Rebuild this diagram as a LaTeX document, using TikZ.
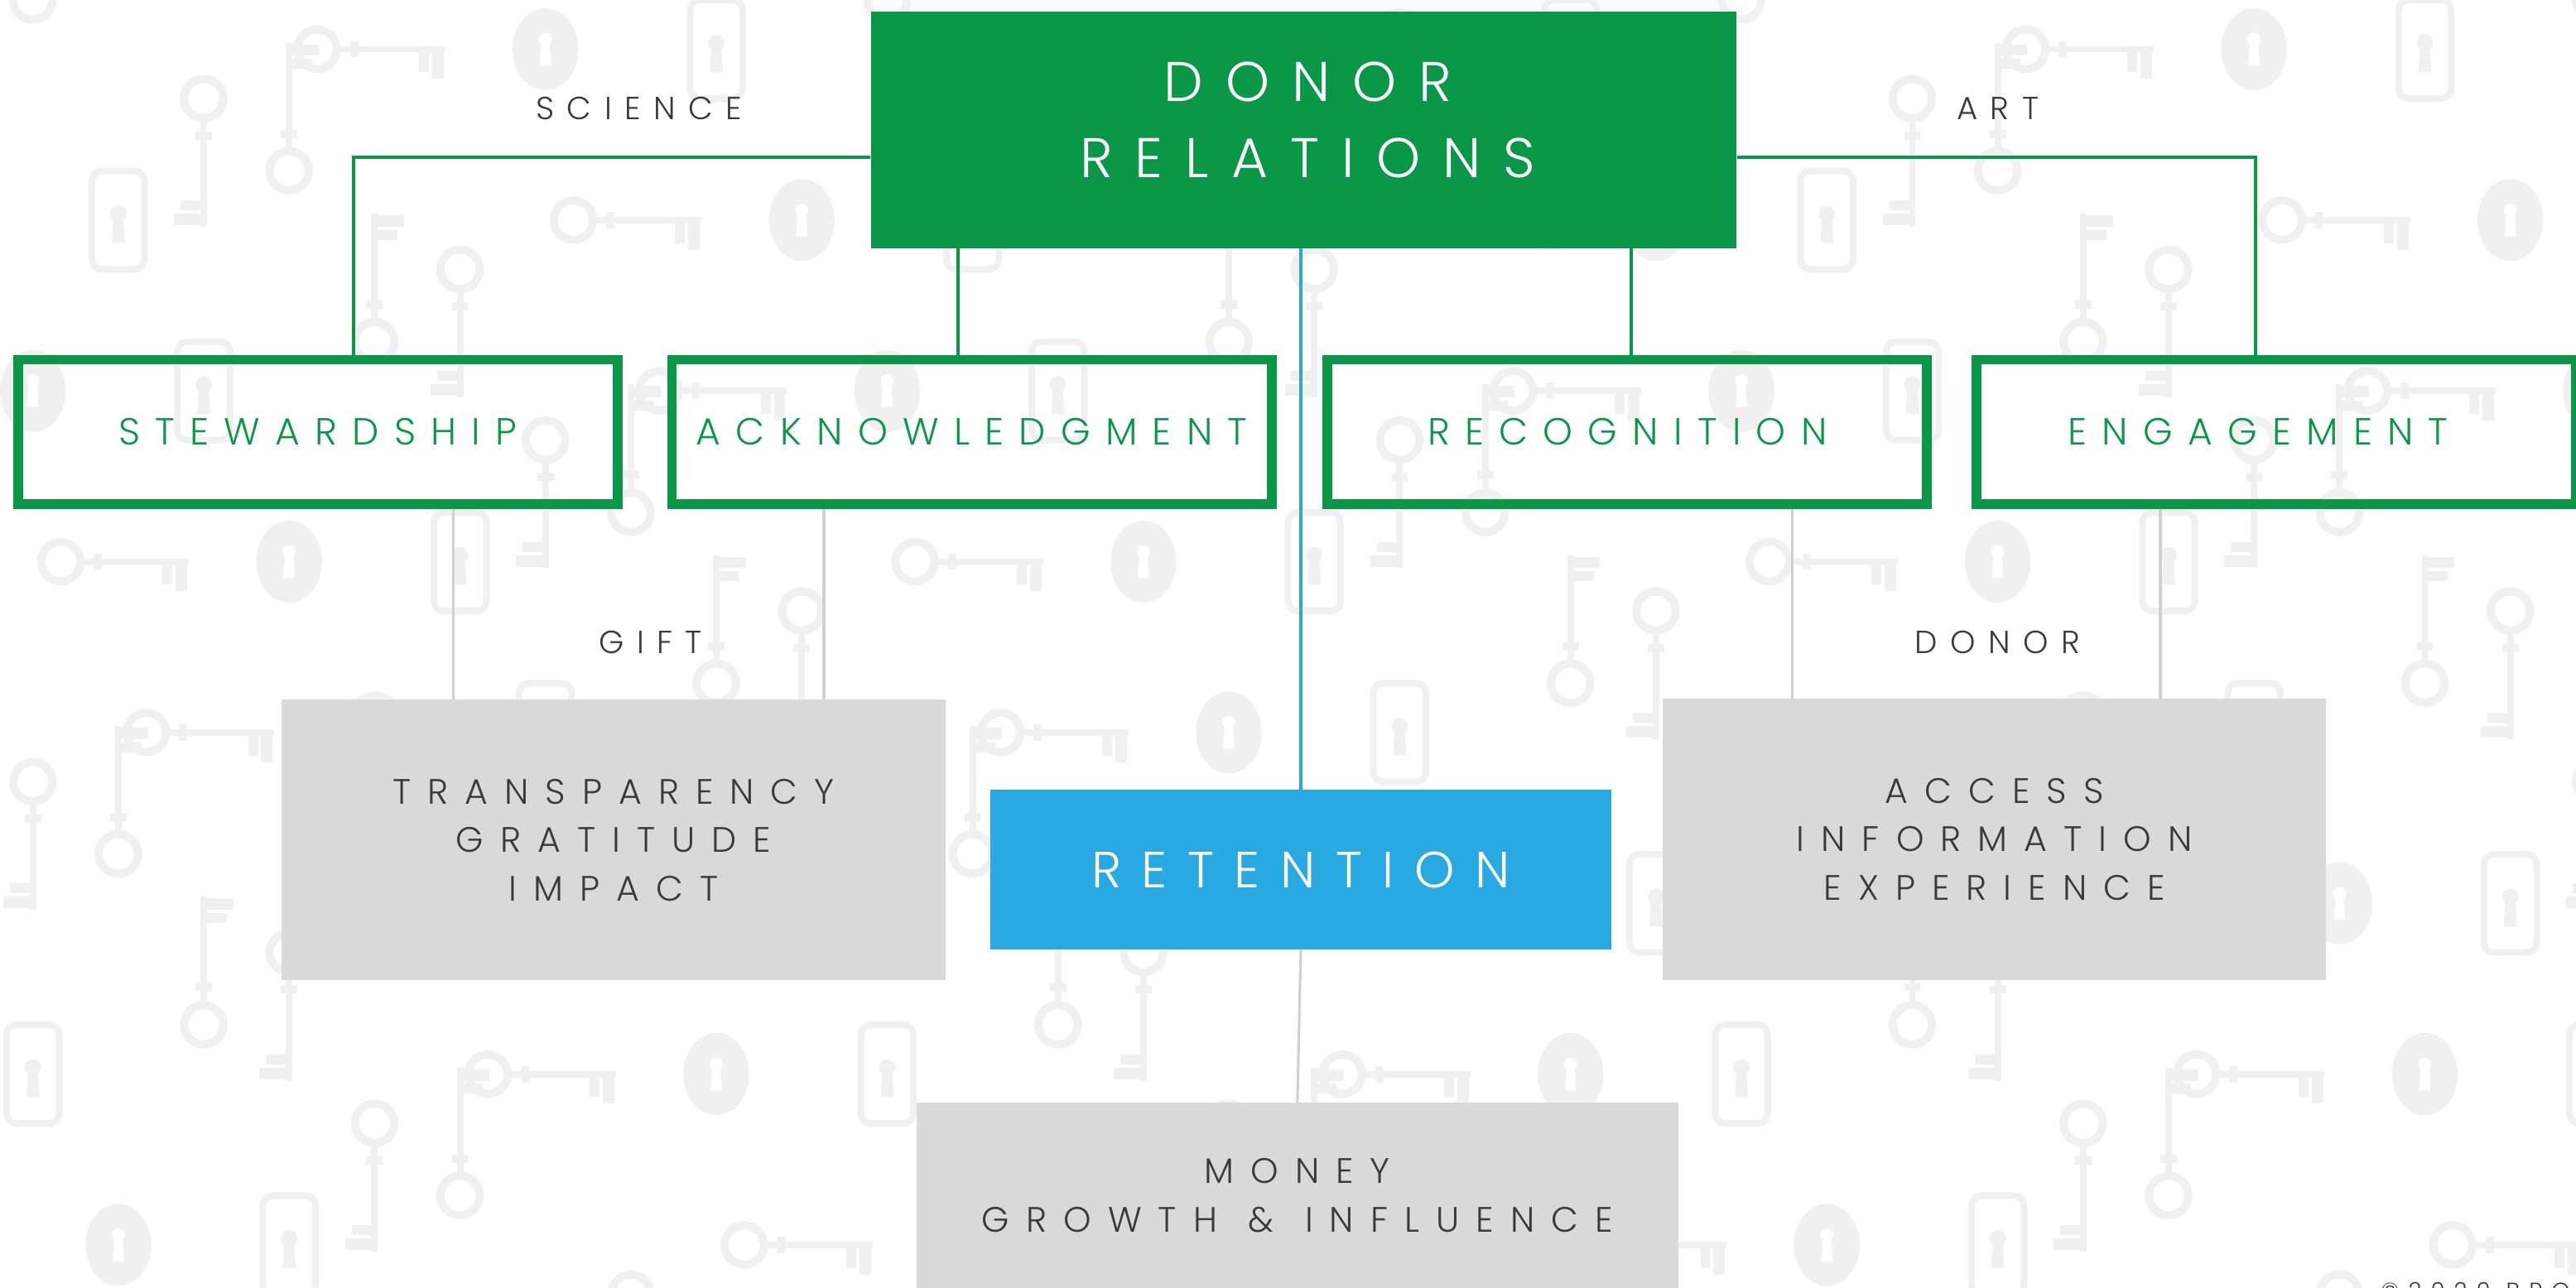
\documentclass[tikz,border=0pt]{standalone}
\usepackage{fontspec}
\IfFontExistsTF{Poppins Light}{\newcommand\labelfontname{Poppins Light}}{\newcommand\labelfontname{Poppins}}
\setmainfont{\labelfontname}
\newfontfamily\spacedfont[LetterSpace=40]{\labelfontname}
\newfontfamily\widefont[LetterSpace=47]{\labelfontname}
\usetikzlibrary{calc}

\definecolor{drgreen}{HTML}{0A9748}
\definecolor{drblue}{HTML}{29A9E1}
\definecolor{boxgray}{HTML}{D9D9D9}
\definecolor{linegray}{HTML}{D0D0D0}
\definecolor{inkgray}{HTML}{3A3A3A}
\definecolor{keygray}{HTML}{F0F0F0}

\tikzset{
  keyshape/.pic={
    \draw[keygray, line width=5pt] (0,0) circle (12);
    \draw[keygray, line width=4pt] (12,0) -- (78,0);
    \fill[keygray] (20,-5) rectangle (25,5);
    \fill[keygray] (62,1) rectangle (68,14);
    \fill[keygray] (70,1) rectangle (77,18);
  },
  lockshape/.pic={
    \fill[keygray] (0,0) ellipse (20 and 25);
    \fill[white] (0,-6) circle (4);
    \fill[white] (-2.5,-4) -- (2.5,-4) -- (3.5,10) -- (-3.5,10) -- cycle;
  },
  plateshape/.pic={
    \draw[keygray, line width=4pt, rounded corners=6pt] (-16,-30) rectangle (16,30);
    \fill[keygray] (0,-4) circle (5);
    \fill[keygray] (-3,-2) -- (3,-2) -- (4,14) -- (-4,14) -- cycle;
  }
}

\begin{document}
\begin{tikzpicture}[x=1pt, y=-1pt,
  mainbox/.style={fill=drgreen, minimum width=527pt, minimum height=144pt, inner sep=0pt},
  maintext/.style={text=white, align=center, inner sep=0pt,
    font=\spacedfont\fontsize{34}{46}\selectfont},
  area/.style={draw=drgreen, line width=6pt, minimum width=365pt, minimum height=88pt,
    inner sep=0pt, text=drgreen, font=\spacedfont\fontsize{23}{28}\selectfont},
  graybox/.style={fill=boxgray, inner sep=0pt, align=center, text=inkgray,
    font=\widefont\fontsize{21.5}{29.5}\selectfont},
  bluebox/.style={fill=drblue, minimum width=378pt, minimum height=97pt, inner sep=0pt,
    text=white, font=\spacedfont\fontsize{31}{36}\selectfont},
  tag/.style={text=inkgray, inner sep=0pt, font=\spacedfont\fontsize{19.5}{24}\selectfont},
  greenlink/.style={draw=drgreen, line width=2pt},
  bluelink/.style={draw=drblue, line width=2pt},
  graylink/.style={draw=linegray, line width=1.6pt}
]
\useasboundingbox (0,0) rectangle (1568,784);
\fill[white] (0,0) rectangle (1568,784);

% faint backdrop of keys, padlocks and keyhole plates
\foreach \i in {0,...,15}{
  \foreach \j in {0,...,7}{
    \pgfmathsetmacro\px{\i*104+mod(\j,2)*52+20}
    \pgfmathsetmacro\py{\j*104+30}
    \pgfmathtruncatemacro\kind{mod(\i*7+\j*3,5)}
    \ifnum\kind=0 \pic[rotate=90] at (\px,\py-30) {keyshape};\fi
    \ifnum\kind=1 \pic at (\px,\py) {lockshape};\fi
    \ifnum\kind=2 \pic[rotate=-90] at (\px,\py+30) {keyshape};\fi
    \ifnum\kind=3 \pic at (\px,\py) {plateshape};\fi
    \ifnum\kind=4 \pic at (\px-35,\py) {keyshape};\fi
  }
}

% top of the tree
\node[mainbox] (dr) at (793.5,79) {};
\node[maintext] (drtext) at (796,73) {DONOR\\RELATIONS};

% the four practices
\node[area] (stew) at (193.5,263) {STEWARDSHIP};
\node[area] (ack) at (591.5,263) {ACKNOWLEDGMENT};
\node[area] (rec) at (990.5,263) {RECOGNITION};
\node[area] (eng) at (1385.5,263) {ENGAGEMENT\kern22pt};

% outcomes
\node[graybox, minimum width=404pt, minimum height=171pt] (tgi) at (373.5,511.5)
  {TRANSPARENCY\\GRATITUDE\\IMPACT};
\node[graybox, minimum width=404pt, minimum height=171pt] (aie) at (1214,511)
  {ACCESS\\INFORMATION\\EXPERIENCE};
\node[bluebox] (ret) at (791.8,529.5) {RETENTION};
\node[graybox, minimum width=464pt, minimum height=113pt] (mgi) at (789.7,728)
  {MONEY\\GROWTH \hspace{3pt}\&\hspace{3pt} INFLUENCE};

% side labels
\node[tag] (science) at (389,66) {SCIENCE};
\node[tag] (art) at (1216,66) {ART};
\node[tag] (gift) at (396,391) {GIFT};
\node[tag] (donor) at (1216,391) {DONOR};

\node[anchor=north west, inner sep=0pt, text=inkgray,
  font=\spacedfont\fontsize{14}{16}\selectfont] (copy) at (1449,780.5) {©2020 BRO};

% green branches
\draw[greenlink] ([yshift=-16.8pt]dr.west) -| ([xshift=21.5pt]stew.north);
\draw[greenlink] ([yshift=-16.8pt]dr.east) -| ([xshift=-12.5pt]eng.north);
\draw[greenlink] ([xshift=-8.5pt]ack.north) -- ([xshift=-8.5pt]ack.north |- dr.south);
\draw[greenlink] ([xshift=2.5pt]rec.north) -- ([xshift=2.5pt]rec.north |- dr.south);

% blue trunk
\draw[bluelink] (ret.north) -- (ret.north |- dr.south);

% gray links to outcomes
\draw[graylink] ([xshift=82.5pt]stew.south) -- ([xshift=82.5pt]stew.south |- tgi.north);
\draw[graylink] ([xshift=-90pt]ack.south) -- ([xshift=-90pt]ack.south |- tgi.north);
\draw[graylink] ([xshift=100.5pt]rec.south) -- ([xshift=100.5pt]rec.south |- aie.north);
\draw[graylink] ([xshift=-70.5pt]eng.south) -- ([xshift=-70.5pt]eng.south |- aie.north);
\draw[graylink] (ret.south) -- (mgi.north);
\end{tikzpicture}
\end{document}
